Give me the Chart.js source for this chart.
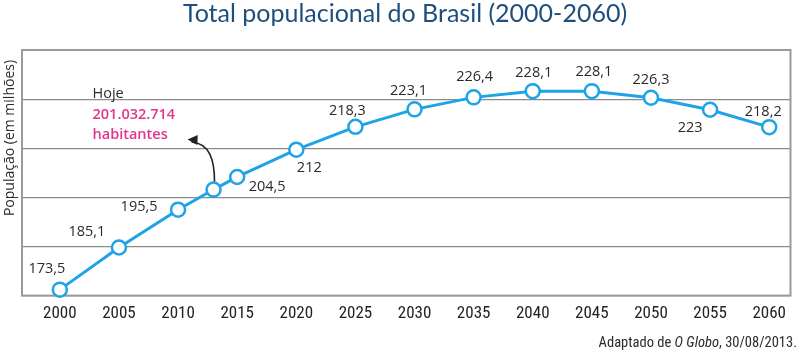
<!DOCTYPE html>
<html><head><meta charset="utf-8">
<script src="https://cdn.jsdelivr.net/npm/chart.js@4"></script>
<style>html,body{margin:0;padding:0;background:#fff;}#wrap{width:800px;height:352px;position:relative}</style>
</head><body><div id="wrap"><canvas id="c" width="800" height="352"></canvas></div>
<script>
// ---- data ----
const years = [2000, 2005, 2010, 2015, 2020, 2025, 2030, 2035, 2040, 2045, 2050, 2055, 2060];
const population = [173.5, 185.1, 195.5, 204.5, 212, 218.3, 223.1, 226.4, 228.1, 228.1, 226.3, 223, 218.2];
const valueLabels = ['173,5', '185,1', '195,5', '204,5', '212', '218,3', '223,1', '226,4', '228,1', '228,1', '226,3', '223', '218,2'];
const xTickLabels = ['2000', '2005', '2010', '2015', '2020', '2025', '2030', '2035', '2040', '2045', '2050', '2055', '2060'];
const todayYear = 2013;
const todayPopulation = 201.032714;
const todayText = ['Hoje', '201.032.714', 'habitantes'];
const titleText = 'Total populacional do Brasil (2000-2060)';
const yAxisTitle = 'População (em milhões)';
const sourceParts = ['Adaptado de ', 'O Globo', ', 30/08/2013.'];

// ---- styles / layout ----
const LINE = '#1ea3e6';
const TEXT = '#2b2b2b';
const MAGENTA = '#e2348e';
const labelOffsets = [[-13,-21],[-32,-16],[-39,-3],[30,10],[13,18],[-8,-16],[-6,-18],[1,-20],[1,-18],[2,-19],[0,-18],[-20,18],[-6,-15]];
const Y_MIN = 171.86, Y_MAX = 239.43, Y_DIV = 5;

// build series (main points + "today" point)
const points = [];
const labelIdx = [];
years.forEach((y, i) => {
  if (todayYear > (i ? years[i-1] : -Infinity) && todayYear < y) {
    points.push({x: todayYear, y: todayPopulation, today: true});
    labelIdx.push(-1);
  }
  points.push({x: y, y: population[i]});
  labelIdx.push(i);
});

const decor = {
  id: 'decor',
  beforeDatasetsDraw(chart) {
    const {ctx, chartArea: a} = chart;
    ctx.save();
    ctx.strokeStyle = '#9a9a9a';
    ctx.lineWidth = 2;
    ctx.strokeRect(a.left, a.top, a.right - a.left, a.bottom - a.top);
    ctx.restore();
  },
  afterDatasetsDraw(chart) {
    const {ctx} = chart;
    const meta = chart.getDatasetMeta(0);
    ctx.save();
    ctx.font = '14.5px "Open Sans", sans-serif';
    ctx.fillStyle = TEXT;
    ctx.textAlign = 'center';
    ctx.textBaseline = 'middle';
    let todayEl = null;
    meta.data.forEach((el, k) => {
      const i = labelIdx[k];
      if (i < 0) { todayEl = el; return; }
      const o = labelOffsets[i];
      ctx.fillText(valueLabels[i], el.x + o[0], el.y + o[1]);
    });
    if (todayEl) {
      const px = todayEl.x, py = todayEl.y;
      // arrow
      const sx = px + 1, sy = py - 8;
      const c1x = px + 1, c1y = py - 30;
      const c2x = px - 4, c2y = py - 46;
      const ex = px - 26, ey = py - 50;
      ctx.strokeStyle = '#222';
      ctx.lineWidth = 1.6;
      ctx.beginPath();
      ctx.moveTo(sx, sy);
      ctx.bezierCurveTo(c1x, c1y, c2x, c2y, ex + 4, ey + 2.5);
      ctx.stroke();
      const ang = Math.atan2(ey - c2y + 3, ex - c2x);
      ctx.fillStyle = '#222';
      ctx.beginPath();
      ctx.moveTo(ex, ey);
      ctx.lineTo(ex - 10 * Math.cos(ang) + 5 * Math.sin(ang), ey - 10 * Math.sin(ang) - 5 * Math.cos(ang));
      ctx.lineTo(ex - 10 * Math.cos(ang) - 5 * Math.sin(ang), ey - 10 * Math.sin(ang) + 5 * Math.cos(ang));
      ctx.closePath();
      ctx.fill();
      // text
      ctx.textAlign = 'left';
      ctx.fillStyle = TEXT;
      ctx.font = '14.5px "Open Sans", sans-serif';
      ctx.fillText(todayText[0], px - 121, py - 96);
      ctx.fillStyle = MAGENTA;
      ctx.font = '600 14.5px "Open Sans", sans-serif';
      ctx.fillText(todayText[1], px - 121, py - 75);
      ctx.fillText(todayText[2], px - 121, py - 55);
    }
    ctx.restore();
  },
  afterDraw(chart) {
    const {ctx} = chart;
    ctx.save();
    // title
    ctx.fillStyle = '#1e4f7c';
    ctx.font = '25px "Lato", sans-serif';
    ctx.textAlign = 'center';
    ctx.textBaseline = 'middle';
    ctx.fillText(titleText, 405, 14);
    // y title
    ctx.save();
    ctx.translate(10, 138);
    ctx.rotate(-Math.PI / 2);
    ctx.fillStyle = TEXT;
    ctx.font = '14px "Open Sans", sans-serif';
    ctx.fillText(yAxisTitle, 0, 0);
    ctx.restore();
    // source
    ctx.fillStyle = TEXT;
    ctx.textBaseline = 'middle';
    ctx.textAlign = 'left';
    const f1 = '14.5px "Liberation Sans Narrow", "Roboto Condensed", "Roboto", sans-serif';
    const f2 = 'italic ' + f1;
    ctx.font = f1; const w0 = ctx.measureText(sourceParts[0]).width; const w2 = ctx.measureText(sourceParts[2]).width;
    ctx.font = f2; const w1 = ctx.measureText(sourceParts[1]).width;
    let x = 797 - (w0 + w1 + w2);
    ctx.font = f1; ctx.fillText(sourceParts[0], x, 343); x += w0;
    ctx.font = f2; ctx.fillText(sourceParts[1], x, 343); x += w1;
    ctx.font = f1; ctx.fillText(sourceParts[2], x, 343);
    ctx.restore();
  }
};

new Chart(document.getElementById('c'), {
  type: 'line',
  data: {
    datasets: [{
      data: points,
      borderColor: LINE,
      borderWidth: 3,
      pointRadius: 7,
      pointBorderWidth: 2.5,
      pointBackgroundColor: '#fff',
      pointBorderColor: LINE,
      tension: 0,
      clip: false
    }]
  },
  options: {
    responsive: false,
    animation: false,
    devicePixelRatio: 1,
    layout: {padding: {top: 50, left: 22, right: 3, bottom: 20}},
    plugins: {legend: {display: false}, tooltip: {enabled: false}, title: {display: false}},
    scales: {
      x: {
        type: 'linear',
        min: 1996.8, max: 2061.8,
        grid: {display: false, drawTicks: false},
        border: {display: false},
        afterBuildTicks(scale) { scale.ticks = years.map(v => ({value: v})); },
        ticks: {
          padding: 8,
          color: '#222',
          font: {family: '"Liberation Sans Narrow", "Roboto Condensed", Roboto, sans-serif', size: 17, weight: 'normal'},
          callback: (v) => xTickLabels[years.indexOf(v)] ?? '',
          maxRotation: 0, autoSkip: false
        }
      },
      y: {
        type: 'linear',
        min: Y_MIN, max: Y_MAX,
        afterBuildTicks(scale) {
          const t = [];
          for (let k = 0; k <= Y_DIV; k++) t.push({value: Y_MIN + (Y_MAX - Y_MIN) * k / Y_DIV});
          scale.ticks = t;
        },
        ticks: {display: false},
        grid: {color: '#8c8c8c', lineWidth: 1.2, drawTicks: false},
        border: {display: false}
      }
    }
  },
  plugins: [decor]
});
</script>
</body></html>
